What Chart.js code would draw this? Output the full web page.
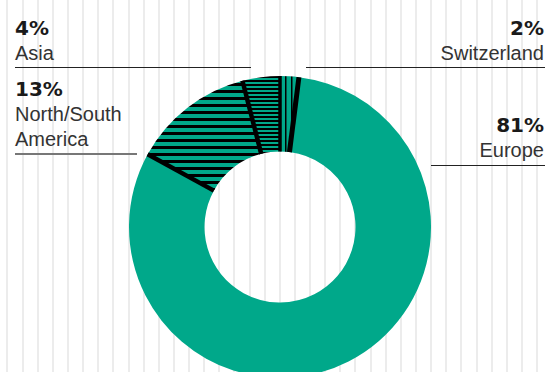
<!DOCTYPE html>
<html>
<head>
<meta charset="utf-8">
<script src="https://cdn.jsdelivr.net/npm/chart.js@4.4.1/dist/chart.umd.min.js"></script>
<style>
  html, body {
    margin: 0;
    padding: 0;
    width: 545px;
    height: 372px;
    overflow: hidden;
    background-color: #fff;
    background-image: repeating-linear-gradient(to right,
      transparent 0px, transparent 6.5px,
      #ececec 6.5px, #ececec 8.5px,
      transparent 8.5px, transparent 15.13px);
    font-family: "Liberation Sans", Arial, sans-serif;
  }
  #wrap {
    position: absolute;
    left: 129px;
    top: 76px;
    width: 302px;
    height: 302px;
  }
  .lbl {
    position: absolute;
    color: #333;
    font-size: 20px;
    line-height: 25px;
    white-space: nowrap;
  }
  .lbl b {
    display: block;
    color: #1a1a1a;
    font-family: "DejaVu Sans", sans-serif;
    font-weight: bold;
  }
  .left { left: 15px; text-align: left; }
  .right { right: 1px; text-align: right; }
  .rule {
    position: absolute;
    height: 1px;
    background: #222;
  }
</style>
</head>
<body>

<div class="lbl left" style="top:16px"><b>4%</b>Asia</div>
<div class="rule" style="left:15px; width:236px; top:67px"></div>

<div class="lbl left" style="top:77px"><b>13%</b>North/South<br>America</div>
<div class="rule" style="left:15px; width:122px; top:153px; height:2px; background:#777"></div>

<div class="lbl right" style="top:16px"><b>2%</b>Switzerland</div>
<div class="rule" style="left:306px; width:239px; top:67px"></div>

<div class="lbl right" style="top:113px"><b>81%</b>Europe</div>
<div class="rule" style="left:431px; width:114px; top:165px"></div>

<div id="wrap"><canvas id="chart" width="302" height="302"></canvas></div>

<script>
  // clockwise from 12 o'clock
  const regions = ['Switzerland', 'Europe', 'North/South America', 'Asia'];
  const shares = [2, 81, 13, 4];

  const TEAL = '#00a88a';

  // fill patterns for the smaller regions
  function stripes(horizontal, period, dark) {
    const c = document.createElement('canvas');
    c.width = period;
    c.height = period;
    const g = c.getContext('2d');
    g.fillStyle = TEAL;
    g.fillRect(0, 0, period, period);
    g.fillStyle = '#000';
    if (horizontal) g.fillRect(0, 0, period, dark);
    else g.fillRect(0, 0, dark, period);
    return g.createPattern(c, 'repeat');
  }

  const fills = [
    stripes(false, 6, 1.5),
    TEAL,
    stripes(true, 7.3, 3),
    stripes(true, 4.3, 2)
  ];

  // black radial edges around the patterned regions
  const edgePlugin = {
    id: 'edges',
    afterDatasetsDraw(chart) {
      const ctx = chart.ctx;
      const arcs = chart.getDatasetMeta(0).data;
      const edges = [
        [arcs[0].startAngle, 3.5, 4],
        [arcs[0].endAngle, 5, 0],
        [arcs[2].startAngle, 4.5, 0],
        [arcs[2].endAngle, 4.5, 0]
      ];
      ctx.save();
      ctx.strokeStyle = '#000';
      edges.forEach(([a, w, extra]) => {
        const arc = arcs[0];
        const cos = Math.cos(a), sin = Math.sin(a);
        ctx.lineWidth = w;
        ctx.beginPath();
        ctx.moveTo(arc.x + cos * arc.innerRadius, arc.y + sin * arc.innerRadius);
        ctx.lineTo(arc.x + cos * arc.outerRadius, arc.y + sin * arc.outerRadius);
        ctx.stroke();
        if (extra) {
          ctx.lineWidth = 1.2;
          ctx.beginPath();
          ctx.moveTo(arc.x + cos * arc.outerRadius, arc.y + sin * arc.outerRadius);
          ctx.lineTo(arc.x + cos * (arc.outerRadius + extra), arc.y + sin * (arc.outerRadius + extra));
          ctx.stroke();
        }
      });
      ctx.restore();
    }
  };

  new Chart(document.getElementById('chart'), {
    type: 'doughnut',
    data: {
      labels: regions,
      datasets: [{
        data: shares,
        backgroundColor: fills,
        borderWidth: 0,
        hoverOffset: 0,
        offset: 0
      }]
    },
    options: {
      responsive: false,
      animation: false,
      cutout: '50%',
      layout: { padding: 0 },
      plugins: {
        legend: { display: false },
        tooltip: { enabled: false }
      }
    },
    plugins: [edgePlugin]
  });
</script>
</body>
</html>
